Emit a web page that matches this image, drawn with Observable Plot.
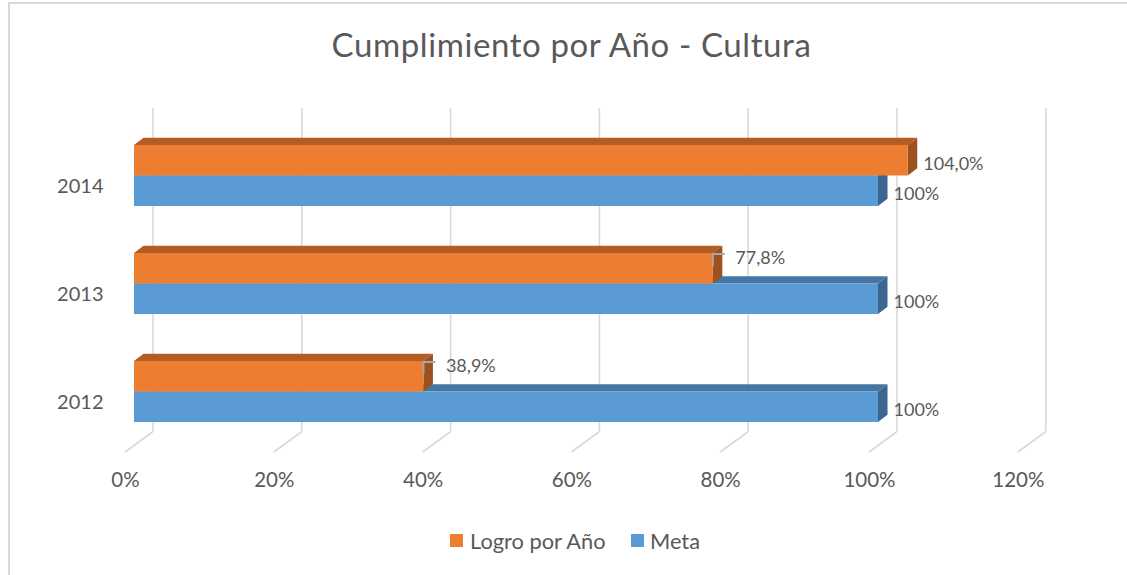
<!DOCTYPE html>
<html>
<head>
<meta charset="utf-8">
<script src="https://cdn.jsdelivr.net/npm/d3@7"></script>
<script src="https://cdn.jsdelivr.net/npm/@observablehq/plot@0.6"></script>
<style>
  body { margin: 0; background: #fff; font-family: Lato, "Open Sans", sans-serif; }
  #wrap { position: relative; width: 1127px; height: 575px; overflow: hidden; background: #fff; }
  #border { position: absolute; left: 8px; top: 2px; width: 1300px; height: 700px;
            border-left: 2px solid #d9d9d9; border-top: 2px solid #d9d9d9; box-sizing: border-box; }
  #title { position: absolute; left: 8px; top: 28px; width: 1127px; text-align: center;
           font-size: 33px; letter-spacing: 0.6px; line-height: 1; color: #595959; white-space: nowrap; }
  #chart { position: absolute; left: 0; top: 95px; }
  .sw { position: absolute; width: 13px; height: 13px; top: 534px; }
  .lg { position: absolute; top: 530px; font-size: 21.8px; line-height: 1; color: #595959; white-space: nowrap; }
</style>
</head>
<body>
<div id="wrap">
  <div id="border"></div>
  <div id="title"></div>
  <div id="chart"></div>
  <div id="legend"></div>
</div>
<script>
// ---- data ----
const title = "Cumplimiento por Año - Cultura";
const years = ["2014", "2013", "2012"];
const logro = [104.0, 77.8, 38.9];
const meta = [100, 100, 100];
const logroLabels = ["104,0%", "77,8%", "38,9%"];
const metaLabels = ["100%", "100%", "100%"];
const logroLeader = [false, true, true];
const xTicks = [0, 20, 40, 60, 80, 100, 120];
const xTickLabels = ["0%", "20%", "40%", "60%", "80%", "100%", "120%"];
const seriesNames = ["Logro por Año", "Meta"];
const seriesColors = ["#ED7D31", "#5B9BD5"];

const rows = years.map((year, i) => ({
  year, logro: logro[i], meta: meta[i],
  logroLabel: logroLabels[i], metaLabel: metaLabels[i], leader: logroLeader[i]
}));

// ---- style / geometry constants ----
const TEXT = "#595959";
const GRID = "#d9d9d9";
const DX = 9.5, DY = -7.3;              // bar depth offset
const BACK_DX = 18.5, BACK_DY = -14;    // back wall offset
const FLOOR_DX = -9, FLOOR_DY = 6;      // floor front offset
const PAD = 0.435;
const W = 1127, H = 420;
const ML = 134, MR = 100.2, MT = 27, MB = 69;

document.getElementById("title").textContent = title;

function bandwidthOf(y) {
  if (typeof y.bandwidth === "function") return y.bandwidth();
  return (y(years[1]) - y(years[0])) * (1 - PAD);
}

function floorMark(index, scales, values, dims) {
  const x = scales.x;
  const yb = dims.height - dims.marginBottom;
  const g = d3.create("svg:g");
  g.selectAll("line").data(xTicks).join("line")
    .attr("x1", d => x(d) + BACK_DX).attr("y1", yb + BACK_DY)
    .attr("x2", d => x(d) + FLOOR_DX).attr("y2", yb + FLOOR_DY)
    .attr("stroke", GRID).attr("stroke-width", 1.6);
  return g.node();
}

function facesMark(key, upper, topColor, sideColor) {
  return (index, scales, values, dims) => {
    const x = scales.x, y = scales.y;
    const bw = bandwidthOf(y);
    const g = d3.create("svg:g");
    rows.forEach(r => {
      const x0 = x(0), x1 = x(r[key]);
      const t = y(r.year) + (upper ? 0 : bw / 2);
      const b = t + bw / 2;
      g.append("path")
        .attr("d", `M${x0},${t}L${x1},${t}L${x1 + DX},${t + DY}L${x0 + DX},${t + DY}Z`)
        .attr("fill", topColor);
      g.append("path")
        .attr("d", `M${x1},${t}L${x1 + DX},${t + DY}L${x1 + DX},${b + DY}L${x1},${b}Z`)
        .attr("fill", sideColor);
    });
    return g.node();
  };
}

function leaderMark(index, scales, values, dims) {
  const x = scales.x, y = scales.y;
  const g = d3.create("svg:g");
  rows.filter(r => r.leader).forEach(r => {
    const xv = x(r.logro), t = y(r.year);
    g.append("path")
      .attr("d", `M${xv},${t + 13}L${xv},${t + 1}L${xv + 12},${t + 1}`)
      .attr("fill", "none").attr("stroke", "#a6a6a6").attr("stroke-width", 2);
  });
  return g.node();
}

const chart = Plot.plot({
  width: W, height: H,
  marginLeft: ML, marginRight: MR, marginTop: MT, marginBottom: MB,
  style: { fontFamily: "Lato, 'Open Sans', sans-serif", background: "transparent", overflow: "visible" },
  x: { domain: [0, 120], axis: null },
  y: { domain: years, paddingInner: PAD, paddingOuter: PAD / 2, axis: null },
  marks: [
    Plot.ruleX(xTicks, { x: d => d, dx: BACK_DX, dy: BACK_DY, stroke: GRID, strokeWidth: 1.6 }),
    floorMark,
    facesMark("meta", false, "#4677A4", "#3C6690"),
    Plot.barX(rows, { x: "meta", y: "year", insetTop: 30.5, fill: seriesColors[1] }),
    facesMark("logro", true, "#B35D24", "#9C511F"),
    Plot.barX(rows, { x: "logro", y: "year", insetBottom: 30.5, fill: seriesColors[0] }),
    leaderMark,
    Plot.text(rows.filter(r => !r.leader), { x: "logro", y: "year", text: "logroLabel",
      textAnchor: "start", dx: 15, dy: -12, fontSize: 18, fill: TEXT }),
    Plot.text(rows.filter(r => r.leader), { x: "logro", y: "year", text: "logroLabel",
      textAnchor: "start", dx: 22, dy: -25.5, fontSize: 18, fill: TEXT }),
    Plot.text(rows, { x: "meta", y: "year", text: "metaLabel",
      textAnchor: "start", dx: 15, dy: 18, fontSize: 18, fill: TEXT }),
    Plot.text(years, { y: d => d, text: d => d, frameAnchor: "left", textAnchor: "end",
      dx: -31, dy: 11, fontSize: 20, fill: TEXT }),
    Plot.text(xTicks, { x: d => d, text: (d, i) => xTickLabels[i], frameAnchor: "bottom",
      dx: -9, dy: 40, fontSize: 20.5, fill: TEXT })
  ]
});
document.getElementById("chart").appendChild(chart);

// ---- legend ----
const legend = document.getElementById("legend");
const swX = [450, 631], txX = [470, 650];
seriesNames.forEach((name, i) => {
  const sw = document.createElement("div");
  sw.className = "sw"; sw.style.left = swX[i] + "px"; sw.style.background = seriesColors[i];
  legend.appendChild(sw);
  const tx = document.createElement("div");
  tx.className = "lg"; tx.style.left = txX[i] + "px"; tx.textContent = name;
  legend.appendChild(tx);
});
</script>
</body>
</html>
